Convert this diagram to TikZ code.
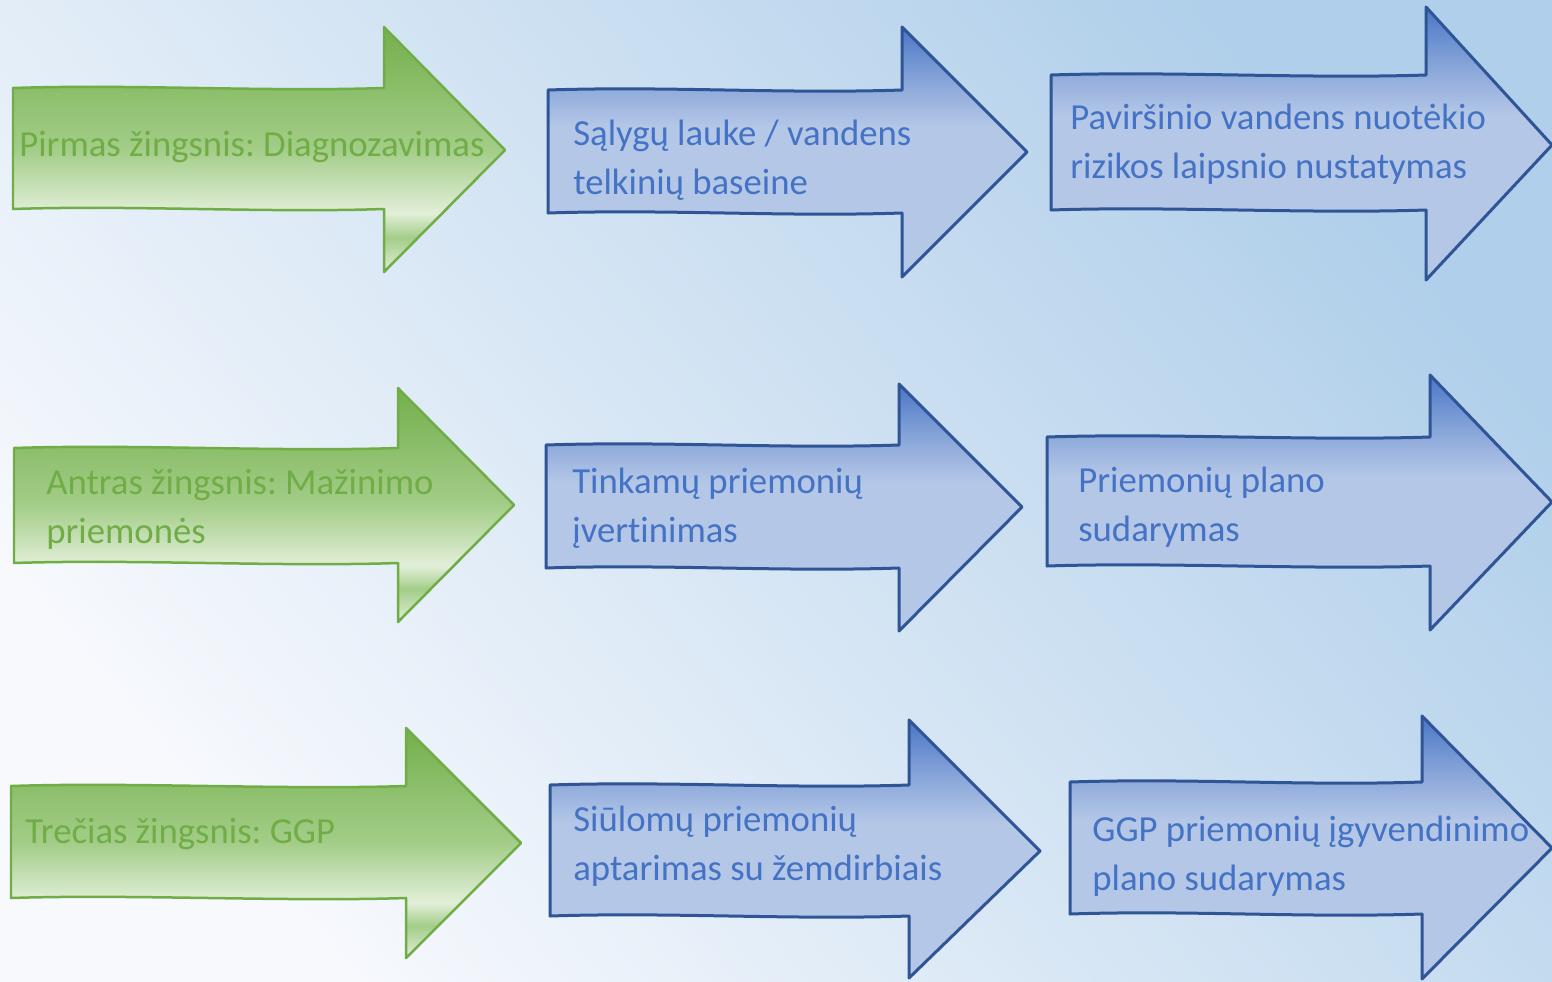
\documentclass[tikz,border=0pt]{standalone}
\usepackage{xcolor}
\usepackage{fontspec}
\setmainfont[Ligatures=NoCommon]{Carlito}
\usetikzlibrary{calc}

\definecolor{bgblue}{HTML}{B0CFEA}
\definecolor{bgmid}{HTML}{D4E5F4}
\definecolor{bgwhite}{HTML}{F7F9FD}
\definecolor{blueline}{HTML}{2F5597}
\definecolor{bluetextc}{HTML}{4472C4}
\definecolor{bluedark}{HTML}{4A76C6}
\definecolor{bluemid}{HTML}{8EAADB}
\definecolor{bluelight}{HTML}{B4C7E7}
\definecolor{greenline}{HTML}{70AD47}
\definecolor{greendark}{HTML}{74AF4C}
\definecolor{greenmid}{HTML}{A3CD88}
\definecolor{greenlight}{HTML}{E2EFD9}

\pgfdeclareverticalshading{bluefade}{100bp}{color(0bp)=(bluelight); color(25bp)=(bluelight); color(55bp)=(bluelight); color(63bp)=(bluemid); color(75bp)=(bluedark); color(100bp)=(bluedark)}
\pgfdeclareverticalshading{greenfade}{100bp}{color(0bp)=(greenlight); color(25bp)=(greenlight); color(32bp)=(greenmid); color(37bp)=(greenlight); color(50bp)=(greenmid); color(75bp)=(greendark); color(100bp)=(greendark)}

% arrow: style, shaft left, shaft top, shaft bottom, head x, head top, head bottom, tip x, tip y
\newcommand{\flowarrow}[9]{%
  \path[#1] (#2,#3) .. controls +(120,-4) and +(-120,4) .. (#5,#3) -- (#5,#6) -- (#8,#9) -- (#5,#7) -- (#5,#4)
    .. controls +(-120,4) and +(120,-4) .. (#2,#4) -- cycle;}

\begin{document}
\frenchspacing
\begin{tikzpicture}[x=0.02cm, y=-0.02cm,
  greenarrow/.style={shade, shading=greenfade, draw=greenline, line width=0.05cm, line join=round},
  bluearrow/.style={shade, shading=bluefade, draw=blueline, line width=0.06cm, line join=round},
  steptext/.style={anchor=west, align=left, inner sep=0pt, font=\fontsize{20.9}{27.8}\selectfont},
  greentext/.style={steptext, text=greenline},
  bluetext/.style={steptext, text=bluetextc}]
  \useasboundingbox (0,0) rectangle (1552,981);
  \shade[top color=bgblue, middle color=bgmid, bottom color=bgwhite, shading angle=-50] (0,0) rectangle (1552,981);

  % first row
  \flowarrow{greenarrow}{13}{88}{209}{384}{27}{272}{505}{150}
  \flowarrow{bluearrow}{548}{90}{213}{902}{27}{277}{1027}{152}
  \flowarrow{bluearrow}{1051}{75}{210}{1426}{7}{280}{1552}{145}
  \node[greentext] (diag) at (19,147) {Pirmas žingsnis: Diagnozavimas};
  \node[bluetext] (salygos) at (573,160) {Sąlygų lauke / vandens\\telkinių baseine};
  \node[bluetext] (rizika) at (1070,144) {Paviršinio vandens nuotėkio\\rizikos laipsnio nustatymas};

  % second row
  \flowarrow{greenarrow}{14}{448}{563}{398}{388}{622}{514}{505}
  \flowarrow{bluearrow}{546}{445}{568}{899}{384}{631}{1022}{507}
  \flowarrow{bluearrow}{1047}{437}{566}{1430}{375}{630}{1552}{502}
  \node[greentext] (mazinimas) at (46,509) {Antras žingsnis: Mažinimo\\priemonės};
  \node[bluetext] (vertinimas) at (572,508) {Tinkamų priemonių\\įvertinimas};
  \node[bluetext] (planas) at (1078,507) {Priemonių plano\\sudarymas};

  % third row
  \flowarrow{greenarrow}{11}{786}{898}{406}{728}{958}{521}{843}
  \flowarrow{bluearrow}{550}{785}{916}{909}{720}{978}{1040}{851}
  \flowarrow{bluearrow}{1070}{782}{914}{1422}{716}{979}{1552}{848}
  \node[greentext] (ggp) at (25,834) {Trečias žingsnis: GGP};
  \node[bluetext] (aptarimas) at (573,846) {Siūlomų priemonių\\aptarimas su žemdirbiais};
  \node[bluetext] (igyvendinimas) at (1092,856) {GGP priemonių įgyvendinimo\\plano sudarymas};
\end{tikzpicture}
\end{document}
